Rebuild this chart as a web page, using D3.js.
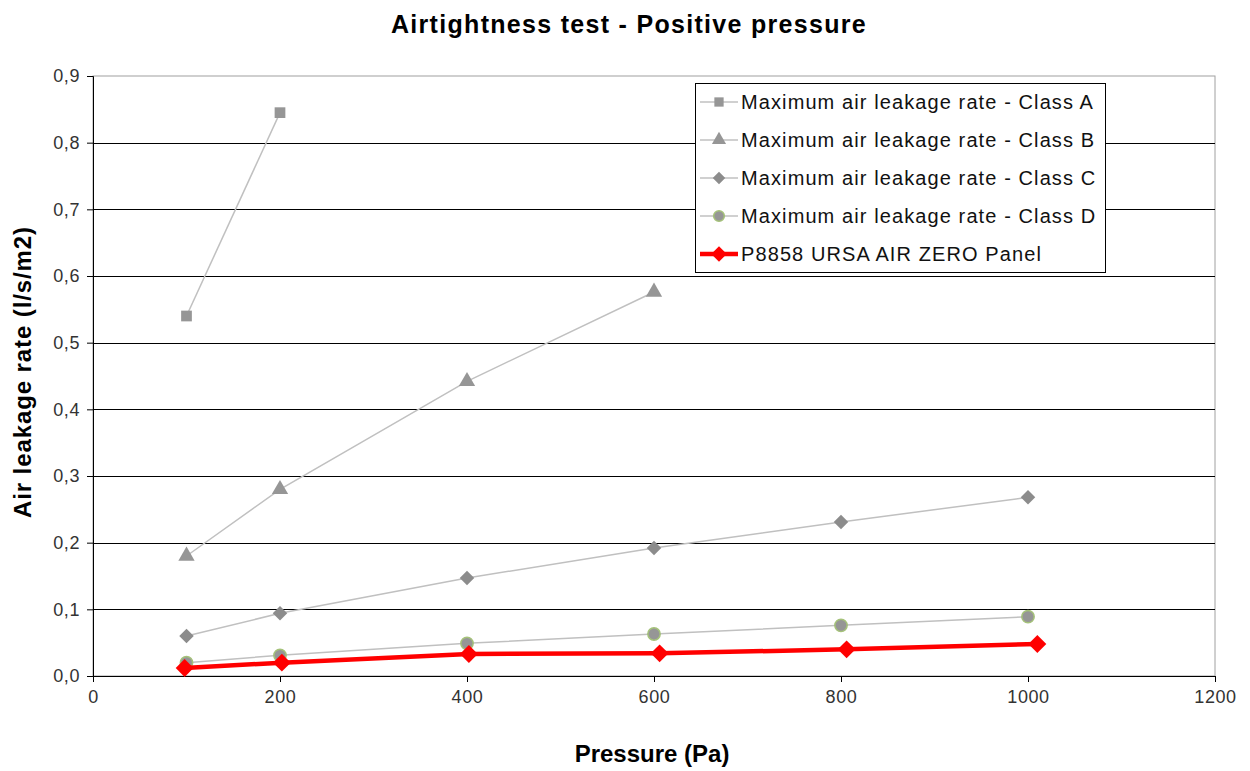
<!DOCTYPE html>
<html>
<head>
<meta charset="utf-8">
<script src="https://cdn.jsdelivr.net/npm/d3@7"></script>
<style>
  body { margin: 0; background: #fff; }
  svg { font-family: "Liberation Sans", Arial, sans-serif; }
</style>
</head>
<body>
<div id="chart"></div>
<script>
// data
var pressures = [100, 200, 400, 600, 800, 1000]
var classA = [0.54, 0.845]
var classB = [0.18, 0.28, 0.442, 0.576]
var classC = [0.06, 0.094, 0.147, 0.192, 0.231, 0.268]
var classD = [0.02, 0.031, 0.049, 0.063, 0.076, 0.089]
var panelPressures = [98, 202, 402, 606, 806, 1010]
var panelValues = [0.012, 0.02, 0.033, 0.034, 0.040, 0.048]
var seriesNames = [
  "Maximum air leakage rate - Class A",
  "Maximum air leakage rate - Class B",
  "Maximum air leakage rate - Class C",
  "Maximum air leakage rate - Class D",
  "P8858 URSA AIR ZERO Panel"
]
var xTicks = [0, 200, 400, 600, 800, 1000, 1200]
var yTicks = [0, 0.1, 0.2, 0.3, 0.4, 0.5, 0.6, 0.7, 0.8, 0.9]

var width = 1250
var height = 771
var margin = {left: 93, right: 35, top: 76, bottom: 95}

var svg = d3.select("#chart").append("svg")
  .attr("width", width)
  .attr("height", height)

var x = d3.scaleLinear().domain([0, 1200]).range([margin.left, width - margin.right])
var y = d3.scaleLinear().domain([0, 0.9]).range([height - margin.bottom, margin.top])

// plot border (grey top/right)
svg.append("rect")
  .attr("x", x(0)).attr("y", y(0.9))
  .attr("width", x(1200) - x(0)).attr("height", y(0) - y(0.9))
  .attr("fill", "none").attr("stroke", "#a0a0a0").attr("stroke-width", 1)

// gridlines
svg.append("g").selectAll("line")
  .data(yTicks.slice(1, yTicks.length - 1))
  .enter().append("line")
    .attr("x1", x(0)).attr("x2", x(1200))
    .attr("y1", function(d) { return Math.round(y(d)) + 0.5 })
    .attr("y2", function(d) { return Math.round(y(d)) + 0.5 })
    .attr("stroke", "#000").attr("stroke-width", 1)

var fmt = function(d) { return d3.format(".1f")(d).replace(".", ",") }

var yAxis = svg.append("g")
  .attr("transform", "translate(" + x(0) + ",0)")
  .call(d3.axisLeft(y).tickValues(yTicks).tickFormat(fmt).tickSize(6).tickPadding(7))
yAxis.select(".domain").attr("stroke", "#000")
yAxis.selectAll("text").style("font-size", "18px").style("letter-spacing", "0.6px").attr("fill", "#333")

var xAxis = svg.append("g")
  .attr("transform", "translate(0," + y(0) + ")")
  .call(d3.axisBottom(x).tickValues(xTicks).tickFormat(d3.format("d")).tickSize(6).tickPadding(8))
xAxis.select(".domain").attr("stroke", "#000")
xAxis.selectAll("text").style("font-size", "18px").style("letter-spacing", "0.6px").attr("fill", "#333")

// titles
svg.append("text")
  .attr("x", 629).attr("y", 33)
  .attr("text-anchor", "middle")
  .style("font-size", "25px").style("font-weight", "bold").style("letter-spacing", "1.3px")
  .text("Airtightness test - Positive pressure")

svg.append("text")
  .attr("x", 652).attr("y", 762)
  .attr("text-anchor", "middle")
  .style("font-size", "24px").style("font-weight", "bold")
  .text("Pressure (Pa)")

svg.append("text")
  .attr("transform", "translate(31,372)rotate(-90)")
  .attr("text-anchor", "middle")
  .style("font-size", "24px").style("font-weight", "bold").style("letter-spacing", "0.9px")
  .text("Air leakage rate (l/s/m2)")

var series = [
  {name: seriesNames[0], xs: pressures, ys: classA, symbol: d3.symbolSquare, size: 115, rot: 0, fill: "#969696", stroke: "none", line: "#c0c0c0", lw: 1.5},
  {name: seriesNames[1], xs: pressures, ys: classB, symbol: d3.symbolTriangle, size: 115, rot: 0, fill: "#969696", stroke: "none", line: "#c0c0c0", lw: 1.5},
  {name: seriesNames[2], xs: pressures, ys: classC, symbol: d3.symbolSquare, size: 105, rot: 45, fill: "#8c8c8c", stroke: "none", line: "#c0c0c0", lw: 1.5},
  {name: seriesNames[3], xs: pressures, ys: classD, symbol: d3.symbolCircle, size: 120, rot: 0, fill: "#969696", stroke: "#a5c27a", line: "#c0c0c0", lw: 1.5},
  {name: seriesNames[4], xs: panelPressures, ys: panelValues, symbol: d3.symbolSquare, size: 160, rot: 45, fill: "#ff0000", stroke: "none", line: "#ff0000", lw: 4.5}
]

var line = d3.line()
  .x(function(d) { return x(d[0]) })
  .y(function(d) { return y(d[1]) })

series.forEach(function(s) {
  var pts = s.ys.map(function(v, i) { return [s.xs[i], v] })
  svg.append("path")
    .datum(pts)
    .attr("d", line)
    .attr("fill", "none")
    .attr("stroke", s.line)
    .attr("stroke-width", s.lw)
  svg.append("g").selectAll("path")
    .data(pts)
    .enter().append("path")
      .attr("transform", function(d) { return "translate(" + x(d[0]) + "," + y(d[1]) + ")rotate(" + s.rot + ")" })
      .attr("d", d3.symbol().type(s.symbol).size(s.size))
      .attr("fill", s.fill)
      .attr("stroke", s.stroke)
      .attr("stroke-width", 1.5)
})

// legend
var legend = svg.append("g").attr("transform", "translate(695,83)")
legend.append("rect")
  .attr("x", 0.5).attr("y", 0.5)
  .attr("width", 410).attr("height", 189)
  .attr("fill", "#fff").attr("stroke", "#000").attr("stroke-width", 1)

series.forEach(function(s, i) {
  var ly = 19 + i * 38
  legend.append("line")
    .attr("x1", 5).attr("x2", 43)
    .attr("y1", ly).attr("y2", ly)
    .attr("stroke", s.line).attr("stroke-width", s.lw)
  legend.append("path")
    .attr("transform", "translate(24," + ly + ")rotate(" + s.rot + ")")
    .attr("d", d3.symbol().type(s.symbol).size(s.size * 0.75))
    .attr("fill", s.fill)
    .attr("stroke", s.stroke)
    .attr("stroke-width", 1.5)
  legend.append("text")
    .attr("x", 46).attr("y", ly + 7)
    .style("font-size", "20px").style("letter-spacing", "1.1px")
    .attr("fill", "#111")
    .text(s.name)
})
</script>
</body>
</html>
